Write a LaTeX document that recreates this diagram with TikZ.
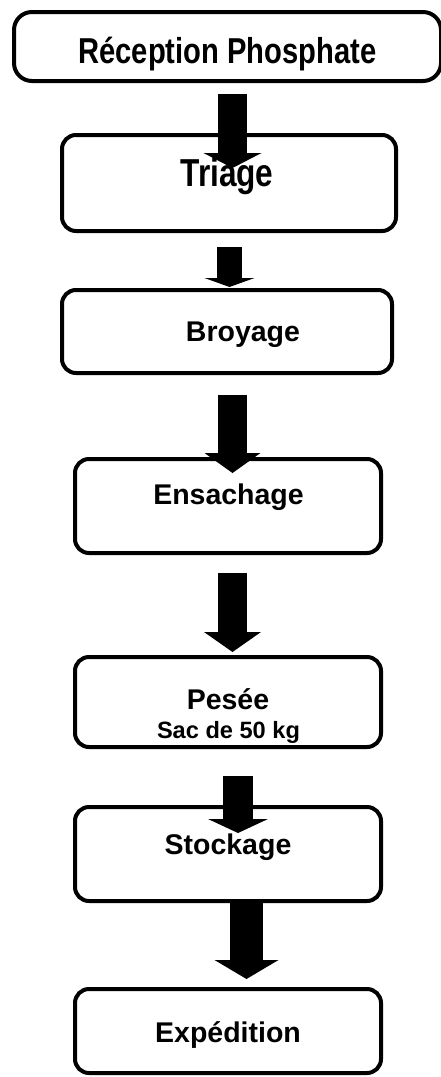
\documentclass[tikz,border=0pt]{standalone}
\usepackage{fontspec}
\setmainfont{Liberation Sans}
\newfontfamily\narrowfont{Liberation Sans}[FakeStretch=0.81]
\usetikzlibrary{arrows.meta,calc}
\tikzset{
	box/.style={draw, line width=4pt, rounded corners=14pt, inner sep=0pt, minimum width=306pt},
	lbl/.style={font=\bfseries\fontsize{28.5}{34}\selectfont, anchor=base, inner sep=0pt},
	blk/.style={line width=29pt, -{Triangle[width=58pt,length=20pt,line width=0pt]}}
}
\begin{document}
\begin{tikzpicture}[x=1pt, y=-1pt, line join=round]
			\useasboundingbox (0,0) rectangle (441,1077);
			% boites
			\node[box, rounded corners=18pt, minimum width=427pt, minimum height=69pt] (rec) at (227.5,46.5) {};
			\node[box, minimum width=334pt, minimum height=96pt] (tri) at (229,183) {};
			\node[box, minimum width=330pt, minimum height=83pt] (broy) at (227,331.5) {};
			\node[box, minimum height=94pt] (ens) at (228,506) {};
			\node[box, minimum height=90pt] (pes) at (228,702) {};
			\node[box, minimum height=94pt] (sto) at (228,854) {};
			\node[box, minimum height=84pt] (exp) at (228,1031) {};
			% textes
			\node[lbl, font=\narrowfont\bfseries\fontsize{36}{40}\selectfont] (lrec) at (227.5,63) {Réception Phosphate};
			\node[lbl, font=\narrowfont\bfseries\fontsize{39}{44}\selectfont] (ltri) at (227,186.5) {Triage};
			\node[lbl] (lbroy) at (243,341.5) {Broyage};
			\node[lbl] (lens) at (228.5,504) {Ensachage};
			\node[lbl] (lpes) at (228,709) {Pesée};
			\node[lbl, font=\bfseries\fontsize{23.6}{28}\selectfont] (lsac) at (228.5,738) {Sac de 50 kg};
			\node[lbl] (lsto) at (228,854) {Stockage};
			\node[lbl] (lexp) at (228,1042.5) {Expédition};
			% fleches
			\draw[blk, -{Triangle[width=58pt,length=15pt,line width=0pt]}] ($(rec.south)+(5,11)$) -- ($(tri.north)+(3.5,35)$);
			\draw[blk, line width=25pt, -{Triangle[width=50pt,length=9pt,line width=0pt]}] ($(tri.south)+(0.5,14)$) -- ($(broy.north)+(2.5,-1)$);
			\draw[blk, -{Triangle[width=56pt,length=20pt,line width=0pt]}] ($(broy.south)+(5.5,20)$) -- ($(ens.north)+(4.5,16)$);
			\draw[blk, -{Triangle[width=57pt,length=20pt,line width=0pt]}] ($(ens.south)+(4.5,18)$) -- ($(pes.north)+(4.5,-3)$);
			\draw[blk, line width=30pt, -{Triangle[width=60pt,length=14pt,line width=0pt]}] ($(pes.south)+(10,27)$) -- ($(sto.north)+(10,28)$);
			\draw[blk, line width=33pt, -{Triangle[width=64pt,length=19pt,line width=0pt]}] ($(sto.south)+(18.5,0)$) -- ($(exp.north)+(18.5,-8)$);
\end{tikzpicture}
\end{document}
